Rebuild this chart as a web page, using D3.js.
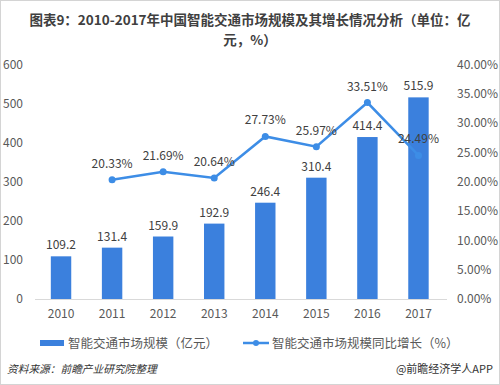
<!DOCTYPE html>
<html>
<head>
<meta charset="utf-8">
<script src="https://cdn.jsdelivr.net/npm/d3@7"></script>
<style>
  body { margin: 0; background: #fff; }
  svg { display: block; font-family: "Noto Sans CJK SC", "Noto Sans", sans-serif; }
</style>
</head>
<body>
<div id="chart-area"></div>
<script>
// 数据
const years = ["2010", "2011", "2012", "2013", "2014", "2015", "2016", "2017"]
const marketSize = [109.2, 131.4, 159.9, 192.9, 246.4, 310.4, 414.4, 515.9] // 亿元
const growth = [null, 20.33, 21.69, 20.64, 27.73, 25.97, 33.51, 24.49] // %
const leftTicks = [0, 100, 200, 300, 400, 500, 600]
const rightTicks = [0, 5, 10, 15, 20, 25, 30, 35, 40]
const titleLines = ["图表9：2010-2017年中国智能交通市场规模及其增长情况分析（单位：亿", "元，%）"]

const W = 500, H = 385
const barColor = "#3b80dd"
const lineColor = "#3d8de6"
const textColor = "#595959"

const svg = d3.select("#chart-area").append("svg")
	.attr("width", W)
	.attr("height", H)

// border
svg.append("rect")
	.attr("x", 0.5).attr("y", 0.5)
	.attr("width", W - 1).attr("height", H - 1)
	.attr("fill", "#fff")
	.attr("stroke", "#d4d4d4")

// title, two lines
svg.selectAll("text.title")
	.data(titleLines)
	.enter().append("text")
	.attr("class", "title")
	.attr("x", 250)
	.attr("y", (d, i) => 24.5 + i * 20)
	.attr("text-anchor", "middle")
	.attr("font-size", 13.5)
	.attr("font-weight", "bold")
	.attr("fill", "#404040")
	.text(d => d)

const x = d3.scaleBand()
	.domain(years)
	.range([35.5, 444])
	.paddingInner(0.6)
	.paddingOuter(0.3)

const y = d3.scaleLinear().domain([0, 600]).range([299, 64.5])
const y2 = d3.scaleLinear().domain([0, 40]).range([299, 64.5])

// left axis
const leftAxis = d3.axisLeft(y).tickValues(leftTicks).tickSize(0).tickPadding(0)
const gL = svg.append("g").attr("transform", "translate(23,0)").call(leftAxis)
gL.select(".domain").remove()
gL.selectAll("text").attr("font-size", 12).attr("fill", textColor)
	.attr("font-family", "Noto Sans CJK SC, Noto Sans, sans-serif")

// right axis (labels left-aligned)
const rightAxis = d3.axisRight(y2).tickValues(rightTicks).tickSize(0).tickPadding(0)
	.tickFormat(d => d.toFixed(2) + "%")
const gR = svg.append("g").attr("transform", "translate(457,0)").call(rightAxis)
gR.select(".domain").remove()
gR.selectAll("text").attr("font-size", 12).attr("fill", textColor)
	.attr("font-family", "Noto Sans CJK SC, Noto Sans, sans-serif")

// x axis
const bottomAxis = d3.axisBottom(x).tickSize(0).tickPadding(10)
const gX = svg.append("g").attr("transform", "translate(0,299)").call(bottomAxis)
gX.select(".domain").attr("stroke", "#d9d9d9").attr("d", "M35,0.5H447")
gX.selectAll("text").attr("font-size", 12).attr("fill", textColor)
	.attr("font-family", "Noto Sans CJK SC, Noto Sans, sans-serif")

// bars
svg.selectAll("rect.bar")
	.data(marketSize)
	.enter().append("rect")
	.attr("class", "bar")
	.attr("x", (d, i) => x(years[i]))
	.attr("y", d => y(d))
	.attr("width", x.bandwidth())
	.attr("height", d => y(0) - y(d))
	.attr("fill", barColor)

svg.selectAll("text.barlabel")
	.data(marketSize)
	.enter().append("text")
	.attr("class", "barlabel")
	.attr("x", (d, i) => x(years[i]) + x.bandwidth() / 2)
	.attr("y", d => y(d) - 7)
	.attr("text-anchor", "middle")
	.attr("font-size", 12)
	.attr("fill", "#404040")
	.text(d => d.toFixed(1))

// growth line
const pts = growth.map((g, i) => ({ year: years[i], g: g })).filter(d => d.g !== null)
const line = d3.line()
	.x(d => x(d.year) + x.bandwidth() / 2)
	.y(d => y2(d.g))

svg.append("path")
	.datum(pts)
	.attr("d", line)
	.attr("fill", "none")
	.attr("stroke", lineColor)
	.attr("stroke-width", 2.5)

svg.selectAll("circle.pt")
	.data(pts)
	.enter().append("circle")
	.attr("class", "pt")
	.attr("cx", d => x(d.year) + x.bandwidth() / 2)
	.attr("cy", d => y2(d.g))
	.attr("r", 3.5)
	.attr("fill", lineColor)

svg.selectAll("text.ptlabel")
	.data(pts)
	.enter().append("text")
	.attr("class", "ptlabel")
	.attr("x", d => x(d.year) + x.bandwidth() / 2)
	.attr("y", d => y2(d.g) - 12)
	.attr("text-anchor", "middle")
	.attr("font-size", 12)
	.attr("fill", "#404040")
	.text(d => d.g.toFixed(2) + "%")

// legend
const legend = svg.append("g").attr("font-size", 12.5).attr("fill", textColor)
legend.append("rect").attr("x", 40).attr("y", 340).attr("width", 24).attr("height", 6).attr("fill", barColor)
legend.append("text").attr("x", 68).attr("y", 347.5).text("智能交通市场规模（亿元）")
legend.append("line").attr("x1", 243).attr("x2", 269).attr("y1", 343).attr("y2", 343)
	.attr("stroke", lineColor).attr("stroke-width", 2.5)
legend.append("circle").attr("cx", 256).attr("cy", 343).attr("r", 3).attr("fill", lineColor)
legend.append("text").attr("x", 272).attr("y", 347.5).text("智能交通市场规模同比增长（%）")

// footer
svg.append("text")
	.attr("x", 7).attr("y", 373)
	.attr("font-size", 10.7)
	.attr("font-style", "italic")
	.attr("fill", "#333")
	.text("资料来源：前瞻产业研究院整理")
svg.append("text")
	.attr("x", 493).attr("y", 373)
	.attr("text-anchor", "end")
	.attr("font-size", 11)
	.attr("fill", "#333")
	.text("@前瞻经济学人APP")
</script>
</body>
</html>
